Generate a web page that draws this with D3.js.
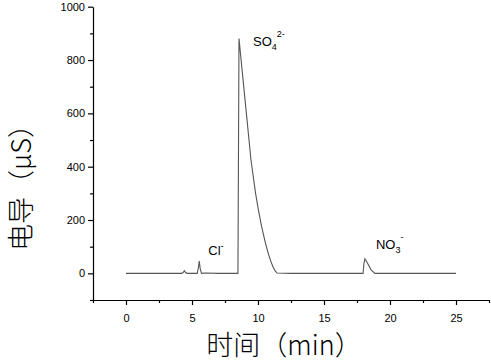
<!DOCTYPE html>
<html>
<head>
<meta charset="utf-8">
<script src="https://cdn.jsdelivr.net/npm/d3@7"></script>
<style>
  body { margin: 0; background: #fff; }
  svg { display: block; }
  .tick text { font-family: "Liberation Sans", Arial, sans-serif; font-size: 11px; fill: #000; }
</style>
</head>
<body>
<div id="chart"></div>
<script>
"use strict";

// chromatogram trace (time in min, conductivity in µS)
const times = [0, 2, 4.2, 4.33, 4.42, 4.52, 4.65, 5.4, 5.48, 5.55, 5.62, 5.72, 6, 7, 8.48, 8.56,
  9.0, 9.47, 9.82, 10.05, 10.28, 10.55, 10.78, 10.98, 11.14, 11.3, 11.45, 12.5, 15,
  17.96, 18.02, 18.1, 18.3, 18.55, 18.86, 20, 25];
const values = [0, 0, 0, 3, 10, 3, 0, 0, 20, 46, 18, 0, 1, 0, 0, 881,
  660, 424, 299, 232, 174, 116, 74, 44, 24, 9, 1, 0, 0,
  0, 35, 55, 38, 14, 0, 0, 0];

const xTicks = [0, 5, 10, 15, 20, 25];
const yTicks = [0, 200, 400, 600, 800, 1000];

const peakLabels = [
  { name: "Cl", sub: "", sup: "-", t: 5.55, v: 46 },
  { name: "SO", sub: "4", sup: "2-", t: 8.56, v: 881 },
  { name: "NO", sub: "3", sup: "-", t: 18.1, v: 55 },
];

const W = 491, H = 362;

const svg = d3.select("#chart").append("svg").attr("width", W).attr("height", H);

const x = d3.scaleLinear().domain([-2.5, 27.5]).range([93, 489]);
const y = d3.scaleLinear().domain([-100, 1000]).range([300, 6.7]);

// minor ticks
const xMinor = d3.range(-2.5, 27.6, 2.5).filter((v) => xTicks.indexOf(v) < 0);
const yMinor = d3.range(-100, 1001, 100).filter((v) => yTicks.indexOf(v) < 0);

svg.append("g")
  .attr("transform", `translate(0, ${y(-100)})`)
  .call(d3.axisBottom(x).tickValues(xMinor).tickSize(3).tickFormat(""))
  .call((g) => g.select(".domain").remove());

svg.append("g")
  .attr("transform", `translate(${x(-2.5)}, 0)`)
  .call(d3.axisLeft(y).tickValues(yMinor).tickSize(3).tickFormat(""))
  .call((g) => g.select(".domain").remove());

// major axes
svg.append("g")
  .attr("transform", `translate(0, ${y(-100)})`)
  .call(d3.axisBottom(x).tickValues(xTicks).tickSize(5).tickSizeOuter(0).tickPadding(9));

svg.append("g")
  .attr("transform", `translate(${x(-2.5)}, 0)`)
  .call(d3.axisLeft(y).tickValues(yTicks).tickSize(5).tickSizeOuter(0).tickPadding(3)
    .tickFormat(d3.format("d")));

svg.selectAll(".domain, .tick line").attr("stroke", "#000").attr("stroke-width", 1.2);

// trace
const pts = times.map((t, i) => [t, values[i]]);
svg.append("path")
  .datum(pts)
  .attr("fill", "none")
  .attr("stroke", "#555")
  .attr("stroke-width", 1.1)
  .attr("d", d3.line().x((d) => x(d[0])).y((d) => y(d[1])));

// peak labels
const offsets = [[9, -6], [14, 8], [11, -10]];
peakLabels.forEach((p, i) => {
  const txt = svg.append("text")
    .attr("x", x(p.t) + offsets[i][0])
    .attr("y", y(p.v) + offsets[i][1])
    .attr("font-family", "Liberation Sans, Arial, sans-serif")
    .attr("font-size", 13)
    .attr("fill", "#000");
  txt.append("tspan").text(p.name);
  if (p.sub) txt.append("tspan").attr("font-size", 9).attr("dy", 4).text(p.sub);
  txt.append("tspan").attr("font-size", 9).attr("dy", p.sub ? -13 : -6).text(p.sup);
});

// axis titles
svg.append("text")
  .attr("x", 284)
  .attr("y", 355)
  .attr("text-anchor", "middle")
  .attr("font-family", "Noto Sans CJK SC, sans-serif")
  .attr("font-weight", 300)
  .attr("font-size", 27)
  .attr("fill", "#000")
  .text("时间（min）");

svg.append("text")
  .attr("transform", "translate(31, 181) rotate(-90)")
  .attr("text-anchor", "middle")
  .attr("font-family", "Noto Sans CJK SC, sans-serif")
  .attr("font-weight", 300)
  .attr("font-size", 27)
  .attr("fill", "#000")
  .text("电导（μS）");
</script>
</body>
</html>
